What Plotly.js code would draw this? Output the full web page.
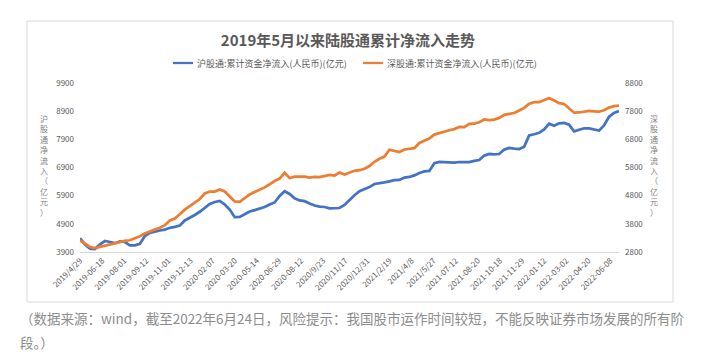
<!DOCTYPE html>
<html><head><meta charset="utf-8">
<script src="https://cdn.plot.ly/plotly-3.0.1.min.js"></script>
<style>html,body{margin:0;padding:0;background:#fff;}#chart{width:704px;height:360px;}</style>
</head><body><div id="chart"></div>
<script>
// ---- data ----
const xLabels = ['2019/4/29','2019-06-18','2019-08-01','2019-09-12','2019-11-01','2019-12-13','2020-02-07','2020-03-20','2020-05-14','2020-06-29','2020-08-12','2020/9/23','2020/11/17','2020/12/31','2021/2/19','2021/4/8','2021/5/27','2021-07-12','2021-08-20','2021-10-18','2021-11-29','2022-01-12','2022-03-02','2022-04-20','2022-06-08'];
// cumulative net inflow, sampled every 7 trading days (亿元)
const shNetInflow = [4390,4167,4018,4007,4174,4291,4255,4213,4273,4255,
  4131,4135,4192,4468,4582,4635,4664,4696,4760,4795,
  4841,5019,5107,5214,5328,5480,5604,5675,5711,5587,
  5406,5136,5143,5239,5338,5388,5431,5498,5583,5658,
  5888,6059,5959,5810,5732,5704,5622,5551,5512,5498,
  5452,5452,5462,5569,5746,5917,6059,6130,6204,6314,
  6329,6371,6410,6449,6460,6542,6563,6620,6705,6762,
  6776,7049,7099,7088,7085,7071,7095,7088,7092,7138,
  7166,7323,7379,7362,7379,7536,7592,7568,7553,7639,
  8036,8079,8132,8249,8455,8381,8469,8484,8420,8182,
  8228,8292,8292,8260,8210,8395,8700,8835,8906];
const szNetInflow = [3209,3095,2978,2935,2978,3035,3081,3106,3166,3195,
  3216,3276,3361,3454,3539,3596,3663,3752,3922,3986,
  4139,4302,4426,4544,4682,4877,4948,4948,5019,4948,
  4753,4597,4579,4707,4845,4930,5001,5094,5204,5321,
  5406,5612,5427,5474,5474,5474,5442,5463,5456,5498,
  5534,5516,5623,5552,5612,5683,5704,5754,5853,6003,
  6109,6187,6429,6379,6350,6439,6468,6485,6670,6752,
  6830,6968,7025,7068,7124,7163,7238,7234,7352,7355,
  7408,7504,7483,7501,7561,7671,7699,7735,7827,7916,
  8062,8118,8118,8204,8264,8179,8086,8054,7912,7746,
  7753,7781,7806,7795,7781,7834,7927,7980,8001];
const seriesNames = ['沪股通:累计资金净流入(人民币)(亿元)','深股通:累计资金净流入(人民币)(亿元)'];
const seriesColors = ['#4472C4', '#ED7D31'];
const chartTitle = '2019年5月以来陆股通累计净流入走势';
const leftAxisTitle = '沪股通净流入（亿元）';
const rightAxisTitle = '深股通净流入（亿元）';
const captionLines = ['（数据来源：wind，截至2022年6月24日，风险提示：我国股市运作时间较短，不能反映证券市场发展的所有阶','段。）'];
const sampleStep = 7;   // trading days between samples
const labelStep = 31;   // trading days between axis labels

// ---- layout helpers ----
const W = 704, H = 360, L = 80, R = 619, T = 83, B = 252;
const px2x = p => (p - L) / (R - L);
const px2y = p => (B - p) / (B - T);
const FONT = '"Noto Sans CJK SC", "Noto Sans", sans-serif';
const xIdx = arr => arr.map((_, i) => i * sampleStep);

const traces = [
  {x: xIdx(shNetInflow), y: shNetInflow, name: seriesNames[0], type: 'scatter', mode: 'lines',
   line: {color: seriesColors[0], width: 2.75}, yaxis: 'y'},
  {x: xIdx(szNetInflow), y: szNetInflow, name: seriesNames[1], type: 'scatter', mode: 'lines',
   line: {color: seriesColors[1], width: 2.75}, yaxis: 'y2'}
];

const annotations = [];
const shapes = [{type: 'rect', xref: 'paper', yref: 'paper', x0: px2x(27), x1: px2x(673),
    y0: px2y(302), y1: px2y(21), line: {color: '#d9d9d9', width: 1}, fillcolor: 'rgba(0,0,0,0)', layer: 'below'}];

// vertical (stacked) axis titles
function vertTitle(str, xpx) {
  annotations.push({text: Array.from(str).join('<br>'), xref: 'paper', yref: 'paper',
    x: px2x(xpx), y: px2y(165), xanchor: 'center', yanchor: 'middle', showarrow: false,
    align: 'center', font: {size: 8, color: '#7f7f7f', family: FONT}});
}
vertTitle(leftAxisTitle, 44);
vertTitle(rightAxisTitle, 654);

// legend (line swatch + text)
const legendItems = [{x0: 173, x1: 193}, {x0: 363, x1: 383}];
legendItems.forEach((it, i) => {
  shapes.push({type: 'line', xref: 'paper', yref: 'paper', x0: px2x(it.x0), x1: px2x(it.x1),
    y0: px2y(63), y1: px2y(63), line: {color: seriesColors[i], width: 2.25}});
  annotations.push({text: seriesNames[i], xref: 'paper', yref: 'paper', x: px2x(it.x1 + 2), y: px2y(63),
    xanchor: 'left', yanchor: 'middle', showarrow: false, font: {size: 9, color: '#595959', family: FONT}});
});

captionLines.forEach((t, i) => {
  annotations.push({text: t, xref: 'paper', yref: 'paper', x: px2x(18), y: px2y(318 + i * 24),
    xanchor: 'left', yanchor: 'middle', showarrow: false, align: 'left',
    font: {size: 13.5, color: '#8c8c8c', family: FONT}});
});

const tickFont = {size: 8, color: '#595959', family: FONT};
const layout = {
  width: W, height: H, margin: {l: L, r: W - R, t: T, b: H - B, pad: 0},
  paper_bgcolor: '#fff', plot_bgcolor: '#fff', font: {family: FONT, color: '#595959'},
  title: {text: '<b>' + chartTitle + '</b>', xref: 'container', yref: 'container',
    x: 348 / W, y: 1 - 40.5 / H, xanchor: 'center', yanchor: 'middle',
    font: {size: 15, color: '#595959', family: FONT}},
  showlegend: false,
  xaxis: {range: [0, (shNetInflow.length - 1) * sampleStep], tickmode: 'array',
    tickvals: xLabels.map((_, i) => i * labelStep), ticktext: xLabels, tickangle: -45,
    showgrid: false, zeroline: false, showline: true, linecolor: '#d9d9d9', linewidth: 1,
    ticks: '', tickfont: tickFont},
  yaxis: {range: [3900, 9900], tick0: 3900, dtick: 1000, tickformat: 'd', showgrid: false, zeroline: false,
    showline: false, ticks: '', ticklabelstandoff: 5, tickfont: tickFont},
  yaxis2: {range: [2800, 8800], tick0: 2800, dtick: 1000, tickformat: 'd', overlaying: 'y', side: 'right',
    showgrid: false, zeroline: false, showline: false, ticks: '', ticklabelstandoff: 5, tickfont: tickFont},
  shapes: shapes,
  annotations: annotations
};
Plotly.newPlot('chart', traces, layout, {displayModeBar: false, staticPlot: true});
</script></body></html>
